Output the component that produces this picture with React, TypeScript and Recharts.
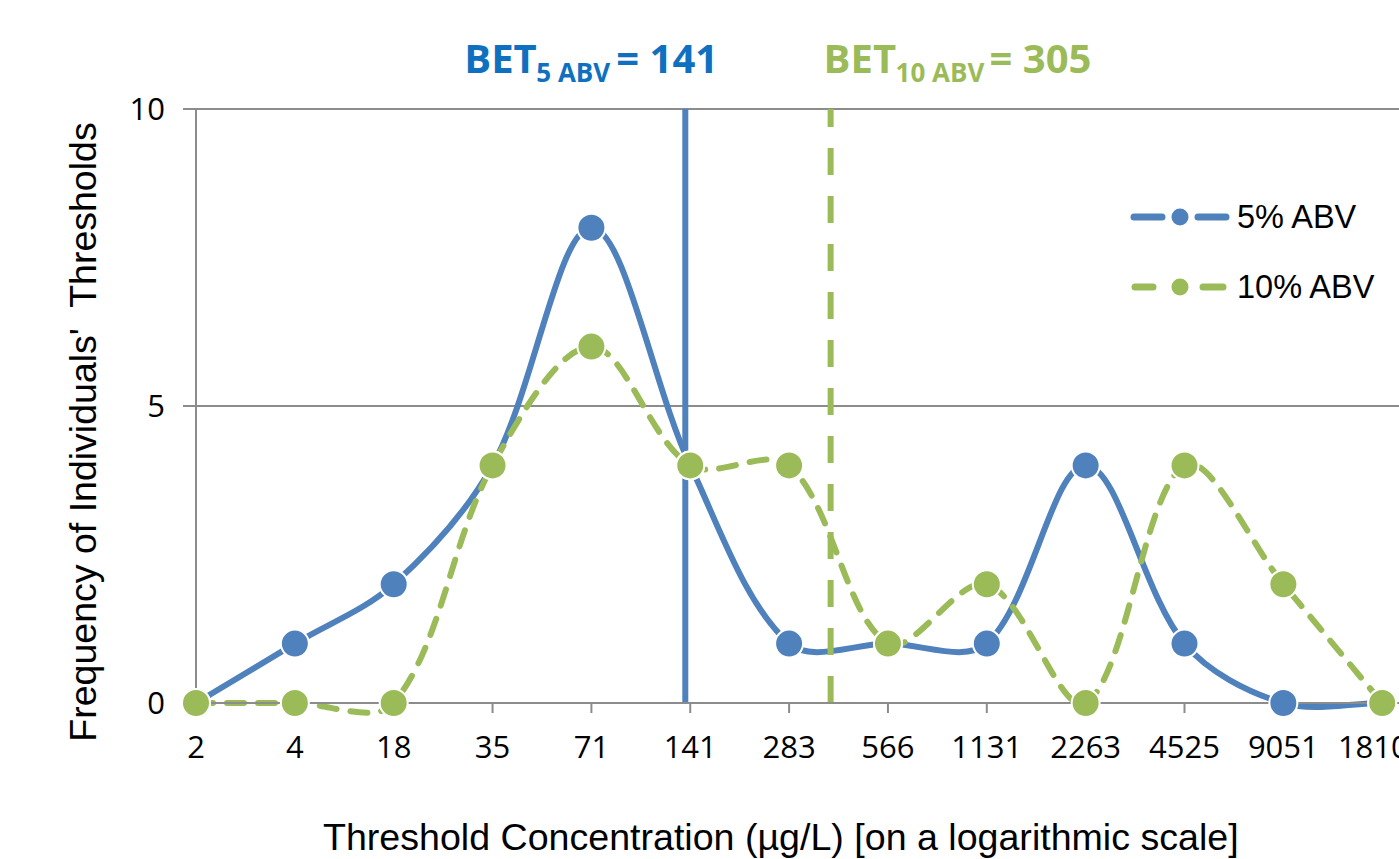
import React from 'react';
import { LineChart, Line, XAxis, YAxis, CartesianGrid, ReferenceLine, Legend } from 'recharts';

const categories = ['2', '4', '18', '35', '71', '141', '283', '566', '1131', '2263', '4525', '9051', '18102'];
const abv5 = [0, 1, 2, 4, 8, 4, 1, 1, 1, 4, 1, 0, 0];
const abv10 = [0, 0, 0, 4, 6, 4, 4, 1, 2, 0, 4, 2, 0];
const yTicks = [0, 5, 10];
const seriesNames = ['5% ABV', '10% ABV'];
const betSubs = ['5 ABV', '10 ABV'];
const betValues = [141, 305];
// positions of the BET values on the categorical (log) index scale
const betPositions = [4.95, 6.42];

const BLUE = '#4F81BD';
const GREEN = '#9BBB59';
const BLUE_TEXT = '#1070C0';
const GRID = '#8C8C8C';
const SANS = "'Liberation Sans', Arial, sans-serif";
const TICK_FONT = "'Open Sans', 'Liberation Sans', sans-serif";

const data = categories.map((c, i) => ({ idx: i, label: c, abv5: abv5[i], abv10: abv10[i] }));
const xTicks = categories.map((_, i) => i);

const dist = (a: number[], b: number[]) => Math.hypot(b[0] - a[0], b[1] - a[1]);

// Excel-like "smoothed line": Bezier segments with chord-length weighted tangents
const smoothCurve: any = (context: any) => {
  let pts: number[][] = [];
  return {
    areaStart() {},
    areaEnd() {},
    lineStart() {
      pts = [];
    },
    point(x: number, y: number) {
      pts.push([+x, +y]);
    },
    lineEnd() {
      const n = pts.length;
      if (!n) return;
      context.moveTo(pts[0][0], pts[0][1]);
      for (let i = 0; i < n - 1; i++) {
        const p0 = pts[i - 1] || pts[i];
        const p1 = pts[i];
        const p2 = pts[i + 1];
        const p3 = pts[i + 2] || pts[i + 1];
        const d01 = dist(p0, p1);
        const d12 = dist(p1, p2);
        const d23 = dist(p2, p3);
        const f1 = d01 + d12 > 0 ? d12 / (3 * (d01 + d12)) : 0;
        const f2 = d12 + d23 > 0 ? d12 / (3 * (d12 + d23)) : 0;
        const c1x = p1[0] + (p2[0] - p0[0]) * f1;
        const c1y = p1[1] + (p2[1] - p0[1]) * f1;
        const c2x = p2[0] - (p3[0] - p1[0]) * f2;
        const c2y = p2[1] - (p3[1] - p1[1]) * f2;
        context.bezierCurveTo(c1x, c1y, c2x, c2y, p2[0], p2[1]);
      }
    },
  };
};

const makeDot = (color: string) => (props: any) => {
  const { cx, cy, index } = props;
  if (cx == null || cy == null) return <g key={`d-${color}-${index}`} />;
  return <circle key={`d-${color}-${index}`} cx={cx} cy={cy} r={14} fill={color} stroke="#ffffff" strokeWidth={2} />;
};

const BetLabel = (props: any) => {
  const { viewBox, color, sub, value, dx, eqOff } = props;
  if (!viewBox) return null;
  const x0 = viewBox.x + dx;
  const top = viewBox.y;
  return (
    <text fontFamily="'Open Sans', sans-serif" fontWeight={700} fill={color}>
      <tspan x={x0} y={top - 36} fontSize={40}>BET</tspan>
      <tspan x={x0 + 72} y={top - 27} fontSize={26}>{sub}</tspan>
      <tspan x={x0 + eqOff} y={top - 36} fontSize={40}>{`= ${value}`}</tspan>
    </text>
  );
};

const XTitle = () => (
  <text x={323} y={850} fontFamily={SANS} fontSize={37.6} fill="#000">
    Threshold Concentration (µg/L) [on a logarithmic scale]
  </text>
);

const YTitle = () => (
  <text
    x={96}
    y={432}
    transform="rotate(-90 96 432)"
    textAnchor="middle"
    fontFamily={SANS}
    fontSize={37.5}
    fill="#000"
  >
    {"Frequency of Individuals'\u00A0 Thresholds"}
  </text>
);

const LegendContent = () => (
  <svg width={280} height={130} style={{ display: 'block', overflow: 'visible' }}>
    <line x1={14} y1={37} x2={42} y2={37} stroke={BLUE} strokeWidth={7} strokeLinecap="round" />
    <circle cx={60} cy={37} r={8.5} fill={BLUE} />
    <line x1={78} y1={37} x2={106} y2={37} stroke={BLUE} strokeWidth={7} strokeLinecap="round" />
    <text x={117} y={48} fontFamily={SANS} fontSize={32.5} fill="#000">{seriesNames[0]}</text>
    <line x1={15} y1={107} x2={33} y2={107} stroke={GREEN} strokeWidth={7} strokeLinecap="round" />
    <circle cx={60} cy={107} r={8.5} fill={GREEN} />
    <line x1={83} y1={107} x2={103} y2={107} stroke={GREEN} strokeWidth={7} strokeLinecap="round" />
    <text x={117} y={118} fontFamily={SANS} fontSize={32.5} fill="#000">{seriesNames[1]}</text>
  </svg>
);

export default function App() {
  return (
    <div style={{ position: 'absolute', left: 0, top: 0, width: 1399, height: 859, background: '#fff' }}>
      <LineChart width={1399} height={859} data={data} margin={{ top: 109, right: 0, bottom: 0, left: 0 }}>
        <CartesianGrid horizontal vertical={false} stroke={GRID} strokeWidth={2} />
        <XAxis
          dataKey="idx"
          type="number"
          domain={[0, 12.17]}
          ticks={xTicks}
          interval={0}
          tickFormatter={(v: number) => categories[v]}
          height={156}
          tickSize={10}
          tickMargin={23}
          axisLine={{ stroke: GRID, strokeWidth: 2 }}
          tickLine={{ stroke: GRID, strokeWidth: 2 }}
          tick={{ fill: '#000', fontSize: 31, fontFamily: TICK_FONT }}
          label={<XTitle />}
        />
        <YAxis
          type="number"
          domain={[0, 10]}
          ticks={yTicks}
          width={196}
          tickSize={13}
          tickMargin={18}
          axisLine={{ stroke: GRID, strokeWidth: 2 }}
          tickLine={{ stroke: GRID, strokeWidth: 2 }}
          tick={{ fill: '#000', fontSize: 31, fontFamily: TICK_FONT }}
          label={<YTitle />}
        />
        <Legend
          layout="horizontal"
          align="center"
          verticalAlign="middle"
          content={<LegendContent />}
          wrapperStyle={{ position: 'absolute', left: 1120, top: 180, width: 280, height: 130 }}
        />
        <Line
          name={seriesNames[0]}
          dataKey="abv5"
          stroke={BLUE}
          strokeWidth={6}
          type={smoothCurve}
          dot={makeDot(BLUE)}
          activeDot={false}
          isAnimationActive={false}
        />
        <Line
          name={seriesNames[1]}
          dataKey="abv10"
          stroke={GREEN}
          strokeWidth={6}
          strokeDasharray="17 14"
          strokeLinecap="round"
          type={smoothCurve}
          dot={makeDot(GREEN)}
          activeDot={false}
          isAnimationActive={false}
        />
        <ReferenceLine
          x={betPositions[0]}
          stroke={BLUE}
          strokeWidth={6}
          label={<BetLabel color={BLUE_TEXT} sub={betSubs[0]} value={betValues[0]} dx={-221} eqOff={152} />}
        />
        <ReferenceLine
          x={betPositions[1]}
          stroke={GREEN}
          strokeWidth={6}
          strokeDasharray="27 21"
          label={<BetLabel color={GREEN} sub={betSubs[1]} value={betValues[1]} dx={-7} eqOff={166} />}
        />
      </LineChart>
    </div>
  );
}
